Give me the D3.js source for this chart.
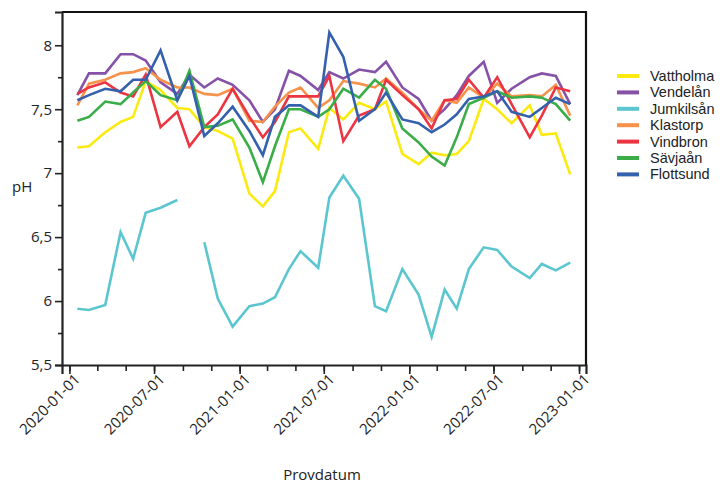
<!DOCTYPE html>
<html>
<head>
<meta charset="utf-8">
<script src="https://cdn.jsdelivr.net/npm/d3@7"></script>
<style>
  body { margin: 0; background: #fff; }
  svg text { font-family: "Open Sans", "Noto Sans", sans-serif; fill: #222; }
</style>
</head>
<body>
<div id="chartContainer"></div>
<script>
// sampling dates (one sample per month)
const dates = ["2020-01-18","2020-02-12","2020-03-18","2020-04-20","2020-05-17","2020-06-13",
  "2020-07-15","2020-08-20","2020-09-15","2020-10-17","2020-11-15","2020-12-17",
  "2021-01-22","2021-02-20","2021-03-18","2021-04-17","2021-05-12","2021-06-19",
  "2021-07-13","2021-08-12","2021-09-15","2021-10-19","2021-11-12","2021-12-17",
  "2022-01-21","2022-02-18","2022-03-18","2022-04-13","2022-05-09","2022-06-10",
  "2022-07-09","2022-08-09","2022-09-17","2022-10-13","2022-11-12","2022-12-13"];

// pH per site
const vattholma = [7.20,7.21,7.32,7.40,7.44,7.72,7.65,7.51,7.50,7.36,7.33,7.27,6.84,6.74,6.86,7.32,7.35,7.19,
  7.51,7.42,7.55,7.50,7.56,7.15,7.07,7.16,7.14,7.15,7.25,7.58,7.50,7.39,7.53,7.30,7.31,6.99];
const vendelan = [7.61,7.78,7.78,7.93,7.93,7.88,7.71,7.62,7.77,7.67,7.74,7.69,7.57,7.40,7.50,7.80,7.76,7.65,
  7.79,7.74,7.81,7.79,7.87,7.67,7.58,7.41,7.50,7.61,7.76,7.87,7.55,7.66,7.75,7.78,7.76,7.54];
const jumkilsan = [5.94,5.93,5.97,6.54,6.33,6.69,6.73,6.79,null,6.46,6.02,5.80,5.96,5.98,6.03,6.25,6.39,6.26,
  6.81,6.98,6.80,5.96,5.92,6.25,6.05,5.72,6.09,5.94,6.25,6.42,6.40,6.27,6.18,6.29,6.24,6.30];
const klastorp = [7.53,7.70,7.73,7.78,7.79,7.82,7.73,7.67,7.67,7.62,7.61,7.66,7.41,7.40,7.52,7.63,7.67,7.51,
  7.57,7.72,7.70,7.67,7.74,7.63,7.50,7.41,7.57,7.55,7.67,7.59,7.70,7.60,7.61,7.60,7.69,7.45];
const vindbron = [7.62,7.67,7.71,7.63,7.60,7.77,7.36,7.48,7.21,7.36,7.46,7.66,7.44,7.28,7.40,7.60,7.60,7.60,
  7.76,7.25,7.45,7.50,7.73,7.61,7.50,7.35,7.57,7.58,7.73,7.59,7.75,7.54,7.28,7.45,7.67,7.64];
const savjaan = [7.41,7.44,7.56,7.54,7.63,7.72,7.61,7.57,7.80,7.36,7.37,7.42,7.20,6.93,7.21,7.50,7.50,7.44,
  7.50,7.66,7.59,7.73,7.66,7.35,7.24,7.13,7.06,7.28,7.54,7.59,7.64,7.59,7.60,7.59,7.54,7.41];
const flottsund = [7.57,7.61,7.66,7.64,7.73,7.73,7.96,7.57,7.76,7.29,7.39,7.52,7.33,7.14,7.44,7.53,7.53,7.44,
  8.10,7.91,7.41,7.50,7.63,7.42,7.39,7.32,7.38,7.46,7.58,7.60,7.64,7.48,7.44,7.51,7.59,7.54];

const siteNames = ["Vattholma","Vendelån","Jumkilsån","Klastorp","Vindbron","Sävjaån","Flottsund"];
const siteValues = [vattholma, vendelan, jumkilsan, klastorp, vindbron, savjaan, flottsund];
const siteColors = ["#fbea10","#8552a8","#5bc6cf","#f6924a","#ec3442","#3bad48","#3461ad"];

const yTicks = [5.5, 6, 6.5, 7, 7.5, 8];
const yMinorTicks = [5.75, 6.25, 6.75, 7.25, 7.75];

// chart properties
const WIDTH = 728;
const HEIGHT = 488;
const LEFT = 62, RIGHT = 586, TOP = 12, BOTTOM = 365;

const parseDate = d3.timeParse("%Y-%m-%d");
const formatDate = d3.timeFormat("%Y-%m-%d");

const svg = d3.select("#chartContainer")
    .append("svg")
    .attr("width", WIDTH)
    .attr("height", HEIGHT);

const xScale = d3.scaleTime()
    .domain([parseDate("2019-12-16"), parseDate("2023-01-16")])
    .range([LEFT, RIGHT]);

const yScale = d3.scaleLinear()
    .domain([5.5, 8.26])
    .range([BOTTOM, TOP]);

// frame (top + right)
svg.append("path")
    .attr("d", `M${LEFT},${TOP}H${RIGHT}V${BOTTOM}`)
    .attr("fill", "none")
    .attr("stroke", "#111")
    .attr("stroke-width", 2.2);

// lines
const line = d3.line()
    .defined(d => d.y != null)
    .x(d => xScale(d.x))
    .y(d => yScale(d.y));

siteValues.forEach((vals, i) => {
    const data = vals.map((v, j) => ({ x: parseDate(dates[j]), y: v }));
    svg.append("path")
        .datum(data)
        .attr("class", "site_line")
        .attr("fill", "none")
        .attr("stroke", siteColors[i])
        .attr("stroke-width", 2.6)
        .attr("stroke-linejoin", "miter")
        .attr("d", line);
});

// y axis
const yAxis = d3.axisLeft(yScale)
    .tickValues(yTicks)
    .tickSize(7)
    .tickPadding(3)
    .tickFormat(d => String(d).replace(".", ","));

const yAxisG = svg.append("g")
    .attr("transform", `translate(${LEFT},0)`)
    .call(yAxis);

svg.append("g")
    .attr("transform", `translate(${LEFT},0)`)
    .call(d3.axisLeft(yScale).tickValues(yMinorTicks).tickSize(4).tickFormat(""))
    .select(".domain").remove();

// x axis
const xAxisG = svg.append("g")
    .attr("transform", `translate(0,${BOTTOM})`)
    .call(d3.axisBottom(xScale)
        .ticks(d3.timeMonth.every(6))
        .tickSize(9)
        .tickFormat(formatDate));

svg.append("g")
    .attr("transform", `translate(0,${BOTTOM})`)
    .call(d3.axisBottom(xScale).ticks(d3.timeMonth.every(2)).tickSize(6).tickFormat(""))
    .select(".domain").remove();

xAxisG.selectAll(".tick text")
    .attr("text-anchor", "end")
    .attr("dy", "0.35em")
    .attr("transform", "translate(-1,3) rotate(-45)");

svg.selectAll(".domain")
    .attr("stroke", "#222")
    .attr("stroke-width", 2.2);
svg.selectAll(".tick line")
    .attr("stroke", "#222")
    .attr("stroke-width", 1.6);
svg.selectAll(".tick text")
    .style("font-size", "15px")
    .attr("fill", "#222");

// axis titles
svg.append("text")
    .attr("x", 12)
    .attr("y", 192)
    .style("font-size", "15px")
    .text("pH");

svg.append("text")
    .attr("x", 322)
    .attr("y", 480)
    .attr("text-anchor", "middle")
    .style("font-size", "15px")
    .text("Provdatum");

// legend
const legend = svg.append("g").attr("class", "legend");
siteNames.forEach((name, i) => {
    const ly = 76 + i * 16.4;
    legend.append("line")
        .attr("x1", 617).attr("x2", 639)
        .attr("y1", ly).attr("y2", ly)
        .attr("stroke", siteColors[i])
        .attr("stroke-width", 4);
    legend.append("text")
        .attr("x", 650)
        .attr("y", ly)
        .attr("dy", "0.35em")
        .style("font-family", "'Liberation Sans', Arial, sans-serif")
        .style("font-size", "14.5px")
        .text(name);
});
</script>
</body>
</html>
